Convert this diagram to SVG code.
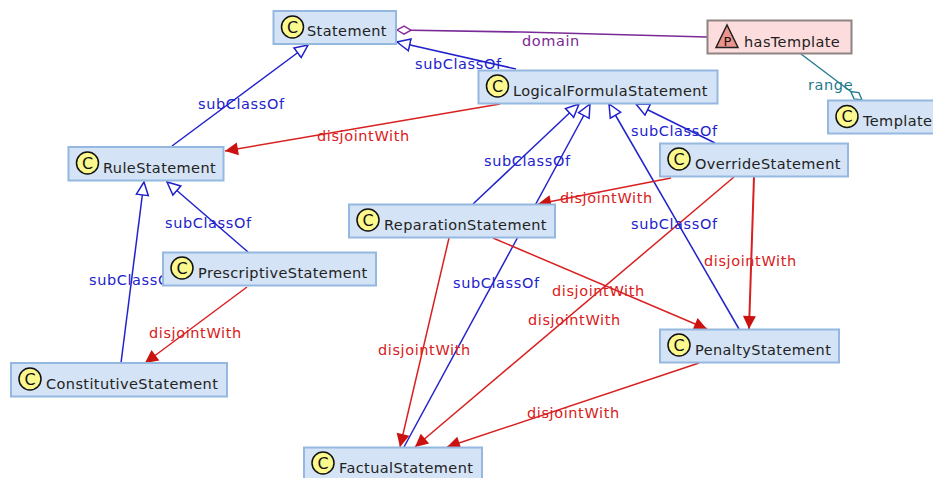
<svg xmlns="http://www.w3.org/2000/svg" width="933" height="478" viewBox="0 0 933 478">
<style>
text{font-family:"DejaVu Sans",sans-serif;font-size:14.5px;letter-spacing:.6px}
.n{fill:#d4e3f5;stroke:#94b8e0;stroke-width:2}
.p{fill:#fcdcdc;stroke:#8f8484;stroke-width:2}
.t{fill:#222;letter-spacing:.4px}
.i{fill:#fbf98e;stroke:#111;stroke-width:1.500}
.c{font-size:16px;letter-spacing:0;fill:#111;text-anchor:middle}
.s{fill:none;stroke:#2222cc;stroke-width:1.500}
.d{fill:none;stroke:#d92020;stroke-width:1.500}
.sl{fill:#2222cc}.dl{fill:#d92020}
</style>
<defs>
<marker id="tri" viewBox="0 0 15 15" refX="14" refY="7.500" markerWidth="15" markerHeight="15" markerUnits="userSpaceOnUse" orient="auto"><path d="M14 7.500L1 1.500V13.500Z" fill="#fff" stroke="#2222cc" stroke-width="1.500"/></marker>
<marker id="arr" viewBox="0 0 15 15" refX="14" refY="7.500" markerWidth="15" markerHeight="15" markerUnits="userSpaceOnUse" orient="auto"><path d="M14 7.500L1 1V14Z" fill="#cc1111"/></marker>
<marker id="dia" viewBox="0 0 16 10" refX="15" refY="5" markerWidth="16" markerHeight="10" markerUnits="userSpaceOnUse" orient="auto"><path d="M15 5L8 1 1 5 8 9Z" fill="#fff" stroke="#8a2a9a" stroke-width="1.400"/></marker>
<marker id="dib" viewBox="0 0 16 10" refX="15" refY="5" markerWidth="16" markerHeight="10" markerUnits="userSpaceOnUse" orient="auto"><path d="M15 5L8 1 1 5 8 9Z" fill="#fff" stroke="#1f7a8c" stroke-width="1.400"/></marker>
</defs>
<g id="connectors">
<path d="M707 37L522 32L397 30" fill="none" stroke="#7a2a96" stroke-width="1.700" marker-end="url(#dia)"/>
<path d="M801 54L862 100" fill="none" stroke="#1f7a8c" stroke-width="1.300" marker-end="url(#dib)"/>
<path class="s" d="M516 69L397 42" marker-end="url(#tri)"/>
<path class="s" d="M172 146L308 45" marker-end="url(#tri)"/>
<path class="s" d="M248 252L167 182" marker-end="url(#tri)"/>
<path class="s" d="M121 363L144 182" marker-end="url(#tri)"/>
<path class="s" d="M473 204L579 104" marker-end="url(#tri)"/>
<path class="s" d="M404 447L590 104" marker-end="url(#tri)"/>
<path class="s" d="M739 329L609 104" marker-end="url(#tri)"/>
<path class="s" d="M715 143L636 104" marker-end="url(#tri)"/>
<path class="d" d="M500 104L225 151" marker-end="url(#arr)"/>
<path class="d" d="M247 287L145 363" marker-end="url(#arr)"/>
<path class="d" d="M671 178L538 204" marker-end="url(#arr)"/>
<path class="d" d="M734 177L415 447" marker-end="url(#arr)"/>
<path class="d" d="M754 177L749 329" marker-end="url(#arr)" style="stroke-width:2"/>
<path class="d" d="M493 238L707 329" marker-end="url(#arr)"/>
<path class="d" d="M449 238L400 447" marker-end="url(#arr)"/>
<path class="d" d="M699 363L447 447" marker-end="url(#arr)"/>
<text x="522" y="46" fill="#7a2a96">domain</text>
<text x="808" y="90" fill="#1f7a8c">range</text>
<text class="sl" x="415" y="69">subClassOf</text>
<text class="sl" x="198" y="109">subClassOf</text>
<text class="sl" x="165" y="228">subClassOf</text>
<text class="sl" x="89" y="285">subClassOf</text>
<text class="sl" x="484" y="166">subClassOf</text>
<text class="sl" x="631" y="136">subClassOf</text>
<text class="sl" x="631" y="229">subClassOf</text>
<text class="sl" x="453" y="288">subClassOf</text>
<text class="dl" x="317" y="141">disjointWith</text>
<text class="dl" x="149" y="338">disjointWith</text>
<text class="dl" x="560" y="203">disjointWith</text>
<text class="dl" x="704" y="266">disjointWith</text>
<text class="dl" x="552" y="296">disjointWith</text>
<text class="dl" x="528" y="325">disjointWith</text>
<text class="dl" x="378" y="355">disjointWith</text>
<text class="dl" x="527" y="418">disjointWith</text>
</g>
<g id="Statement"><rect class="n" x="273.500" y="11" width="122.500" height="33"/><circle class="i" cx="292.500" cy="27" r="11"/><text class="c" x="292.500" y="32.500">C</text><text class="t" x="307" y="36">Statement</text></g>
<g id="LogicalFormulaStatement"><rect class="n" x="478.500" y="70.500" width="239" height="33"/><circle class="i" cx="497.500" cy="86" r="11"/><text class="c" x="497.500" y="91.500">C</text><text class="t" x="513" y="96">LogicalFormulaStatement</text></g>
<g id="hasTemplate"><rect class="p" x="707.500" y="20.500" width="144" height="33"/><path d="M716 47.500L727 25 738 47.500Z" fill="#eb938c" stroke="#222" stroke-width="1.500"/><text x="727.500" y="46" style="font-size:13px;letter-spacing:0" fill="#111" text-anchor="middle">P</text><text class="t" x="744" y="47">hasTemplate</text></g>
<g id="Template"><rect class="n" x="828" y="100.500" width="110" height="33"/><circle class="i" cx="847" cy="116.500" r="11"/><text class="c" x="847" y="122">C</text><text class="t" x="863" y="126">Template</text></g>
<g id="RuleStatement"><rect class="n" x="68.500" y="147" width="155" height="33.500"/><circle class="i" cx="87.500" cy="163" r="11"/><text class="c" x="87.500" y="168.500">C</text><text class="t" x="103" y="173">RuleStatement</text></g>
<g id="PrescriptiveStatement"><rect class="n" x="163" y="252.500" width="213" height="33"/><circle class="i" cx="182" cy="268" r="11"/><text class="c" x="182" y="273.500">C</text><text class="t" x="198" y="278">PrescriptiveStatement</text></g>
<g id="ConstitutiveStatement"><rect class="n" x="11" y="363" width="216" height="33.500"/><circle class="i" cx="30" cy="379" r="11"/><text class="c" x="30" y="384.500">C</text><text class="t" x="46" y="389">ConstitutiveStatement</text></g>
<g id="ReparationStatement"><rect class="n" x="349" y="204.500" width="206" height="33"/><circle class="i" cx="368" cy="220" r="11"/><text class="c" x="368" y="225.500">C</text><text class="t" x="384" y="230">ReparationStatement</text></g>
<g id="OverrideStatement"><rect class="n" x="660" y="143.500" width="188" height="33"/><circle class="i" cx="679" cy="159" r="11"/><text class="c" x="679" y="164.500">C</text><text class="t" x="695" y="169">OverrideStatement</text></g>
<g id="PenaltyStatement"><rect class="n" x="660" y="329.500" width="179" height="33"/><circle class="i" cx="679" cy="345" r="11"/><text class="c" x="679" y="350.500">C</text><text class="t" x="695" y="355">PenaltyStatement</text></g>
<g id="FactualStatement"><rect class="n" x="304" y="447.500" width="178" height="36"/><circle class="i" cx="323" cy="463" r="11"/><text class="c" x="323" y="468.500">C</text><text class="t" x="339" y="473">FactualStatement</text></g>
</svg>
